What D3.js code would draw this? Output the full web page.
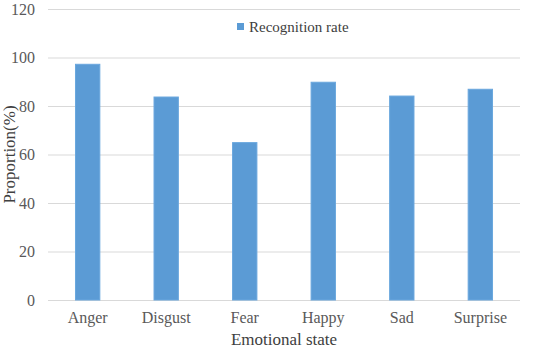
<!DOCTYPE html>
<html>
<head>
<meta charset="utf-8">
<script src="https://cdn.jsdelivr.net/npm/d3@7"></script>
<style>
  body { margin: 0; background: #fff; }
</style>
</head>
<body>
<div id="chart"></div>
<script>
const categories = ["Anger", "Disgust", "Fear", "Happy", "Sad", "Surprise"];
const recognitionRate = [97.2, 83.7, 64.9, 89.8, 84.1, 86.9];
const yTicks = [0, 20, 40, 60, 80, 100, 120];

const width = 536;
const height = 351;
const margin = { top: 9, right: 16, bottom: 51, left: 48 };

const svg = d3.select("#chart")
  .append("svg")
  .attr("width", width)
  .attr("height", height)
  .attr("font-family", "'Liberation Serif', 'Times New Roman', serif");

const x = d3.scaleBand()
  .domain(categories)
  .range([margin.left, width - margin.right])
  .paddingInner(0.69)
  .paddingOuter(0.35);

const y = d3.scaleLinear()
  .domain([0, 120])
  .range([height - margin.bottom, margin.top]);

// gridlines
svg.append("g")
  .selectAll("line")
  .data(yTicks)
  .enter()
  .append("line")
  .attr("x1", margin.left)
  .attr("x2", width - margin.right)
  .attr("y1", d => y(d) + 0.5)
  .attr("y2", d => y(d) + 0.5)
  .attr("stroke", "#d9d9d9")
  .attr("stroke-width", 1);

// y tick labels
svg.append("g")
  .selectAll("text")
  .data(yTicks)
  .enter()
  .append("text")
  .attr("x", 35)
  .attr("y", d => y(d))
  .attr("dy", "0.35em")
  .attr("text-anchor", "end")
  .attr("fill", "#595959")
  .style("font-size", "16px")
  .text(d => d);

// bars
svg.append("g")
  .selectAll("rect")
  .data(recognitionRate)
  .enter()
  .append("rect")
  .attr("x", (d, i) => x(categories[i]))
  .attr("y", d => y(d))
  .attr("width", x.bandwidth())
  .attr("height", d => y(0) - y(d))
  .attr("fill", "#5b9bd5")
  .attr("stroke", "#6aa7de")
  .attr("stroke-width", 1);

// x category labels
svg.append("g")
  .selectAll("text")
  .data(categories)
  .enter()
  .append("text")
  .attr("x", d => x(d) + x.bandwidth() / 2)
  .attr("y", 323)
  .attr("text-anchor", "middle")
  .attr("fill", "#595959")
  .style("font-size", "16px")
  .text(d => d);

// axis titles
svg.append("text")
  .attr("x", (margin.left + width - margin.right) / 2)
  .attr("y", 345)
  .attr("text-anchor", "middle")
  .attr("fill", "#404040")
  .style("font-size", "17px")
  .text("Emotional state");

svg.append("text")
  .attr("transform", `translate(15,${y(60)}) rotate(-90)`)
  .attr("text-anchor", "middle")
  .attr("fill", "#404040")
  .style("font-size", "17px")
  .text("Proportion(%)");

// legend
const legend = svg.append("g").attr("transform", "translate(237,23)");
legend.append("rect")
  .attr("width", 7)
  .attr("height", 7)
  .attr("fill", "#5b9bd5");
legend.append("text")
  .attr("x", 12)
  .attr("y", 4)
  .attr("dy", "0.35em")
  .attr("fill", "#404040")
  .style("font-size", "15px")
  .text("Recognition rate");
</script>
</body>
</html>
